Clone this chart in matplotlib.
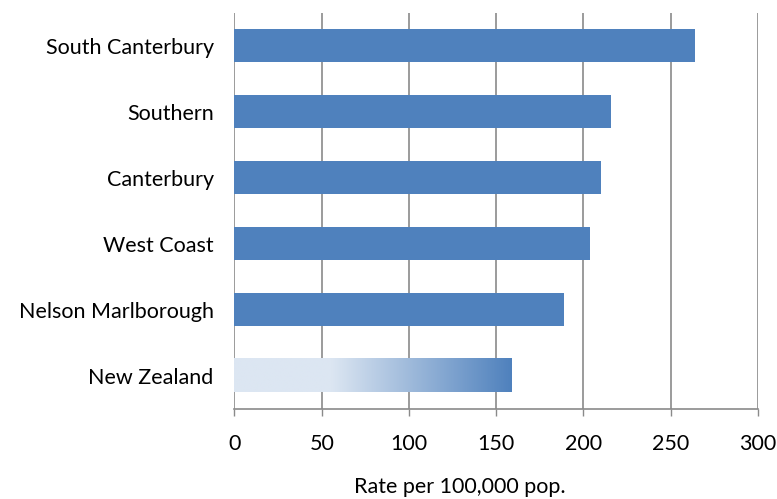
import matplotlib
matplotlib.use("Agg")
import matplotlib.pyplot as plt
import numpy as np
from matplotlib.colors import LinearSegmentedColormap

regions = ["South Canterbury", "Southern", "Canterbury", "West Coast",
           "Nelson Marlborough", "New Zealand"]
rates = [264, 216, 210, 204, 189, 159]
x_ticks = [0, 50, 100, 150, 200, 250, 300]

bar_color = "#4f81bd"
light_color = "#dce6f2"
grid_color = "#8a8a8a"

plt.rcParams["font.family"] = ["Lato", "DejaVu Sans"]

fig = plt.figure(figsize=(7.77, 4.99), dpi=100)
ax = fig.add_axes([0.3018, 0.1804, 0.6737, 0.7936])

y = np.arange(len(regions))[::-1]
bars = ax.barh(y, rates, height=0.5, color=bar_color, zorder=3)

# National average bar gets a light-to-dark gradient fill
nz = bars[-1]
nz.set_facecolor("none")
x0, y0 = nz.get_x(), nz.get_y()
w, h = nz.get_width(), nz.get_height()
cmap = LinearSegmentedColormap.from_list(
    "nz", [(0, light_color), (0.35, light_color), (1, bar_color)])
grad = np.linspace(0, 1, 256).reshape(1, -1)
ax.imshow(grad, cmap=cmap, aspect="auto", extent=[x0, x0 + w, y0, y0 + h],
          zorder=3, interpolation="bilinear")

ax.set_xlim(0, 300)
ax.set_ylim(-0.5, len(regions) - 0.5)
ax.set_xticks(x_ticks)
ax.set_xticklabels([str(t) for t in x_ticks], fontsize=15.5)
ax.set_yticks(y)
ax.set_yticklabels(regions, fontsize=15.5)
ax.tick_params(axis="y", length=0, pad=15)
ax.tick_params(axis="x", length=5, width=1, color=grid_color, direction="out", pad=13)

ax.grid(axis="x", color=grid_color, linewidth=1.2, zorder=0)
for s in ["top", "right", "left"]:
    ax.spines[s].set_visible(False)
ax.spines["bottom"].set_color(grid_color)
ax.spines["bottom"].set_linewidth(1.2)

ax.set_xlabel("Rate per 100,000 pop.", fontsize=15.5)
ax.xaxis.set_label_coords((460 - 234.5) / 523.5, -(487 - 409) / 396, transform=ax.transAxes)
ax.xaxis.label.set_verticalalignment("center")

fig.savefig("out.png", dpi=100)
